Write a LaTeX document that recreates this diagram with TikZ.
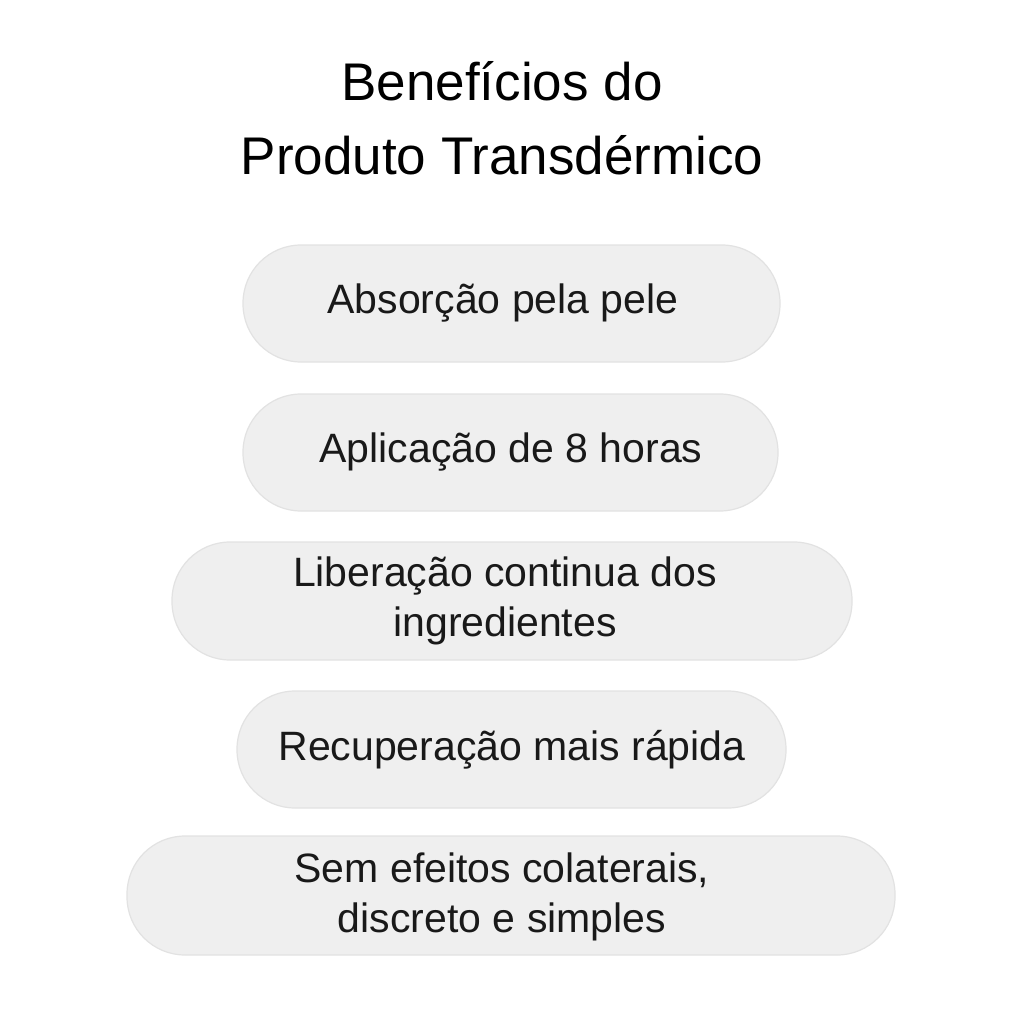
\documentclass[tikz,border=0pt]{standalone}
\usepackage{fontspec}
\setmainfont{Liberation Sans}
\definecolor{pillfill}{HTML}{EFEFEF}
\definecolor{pillline}{HTML}{E2E2E2}
\begin{document}
\begin{tikzpicture}[x=1pt,y=-1pt,
  pill/.style={draw=pillline,line width=1.2pt,fill=pillfill,rounded corners=58pt},
  txt/.style={font=\fontsize{41}{50}\selectfont,align=center,text=black!90}]
\useasboundingbox (0,0) rectangle (1024,1024);
\node[font=\fontsize{53}{74}\selectfont,align=center] (title) at (502,118) {Benefícios do\\Produto Transdérmico};
\draw[pill] (243,245) rectangle (780,362);
\node[txt] (a) at (503,303) {Absorção pela pele};
\draw[pill] (243,394) rectangle (778,511);
\node[txt] (b) at (511,452) {Aplicação de 8 horas};
\draw[pill] (172,542) rectangle (852,660);
\node[txt] (c) at (505,601) {Liberação continua dos\\ingredientes};
\draw[pill] (237,691) rectangle (786,808);
\node[txt] (d) at (512,750) {Recuperação mais rápida};
\draw[pill] (127,836) rectangle (895,955);
\node[txt] (e) at (502,897) {Sem efeitos colaterais,\\ discreto e simples};
\end{tikzpicture}
\end{document}
